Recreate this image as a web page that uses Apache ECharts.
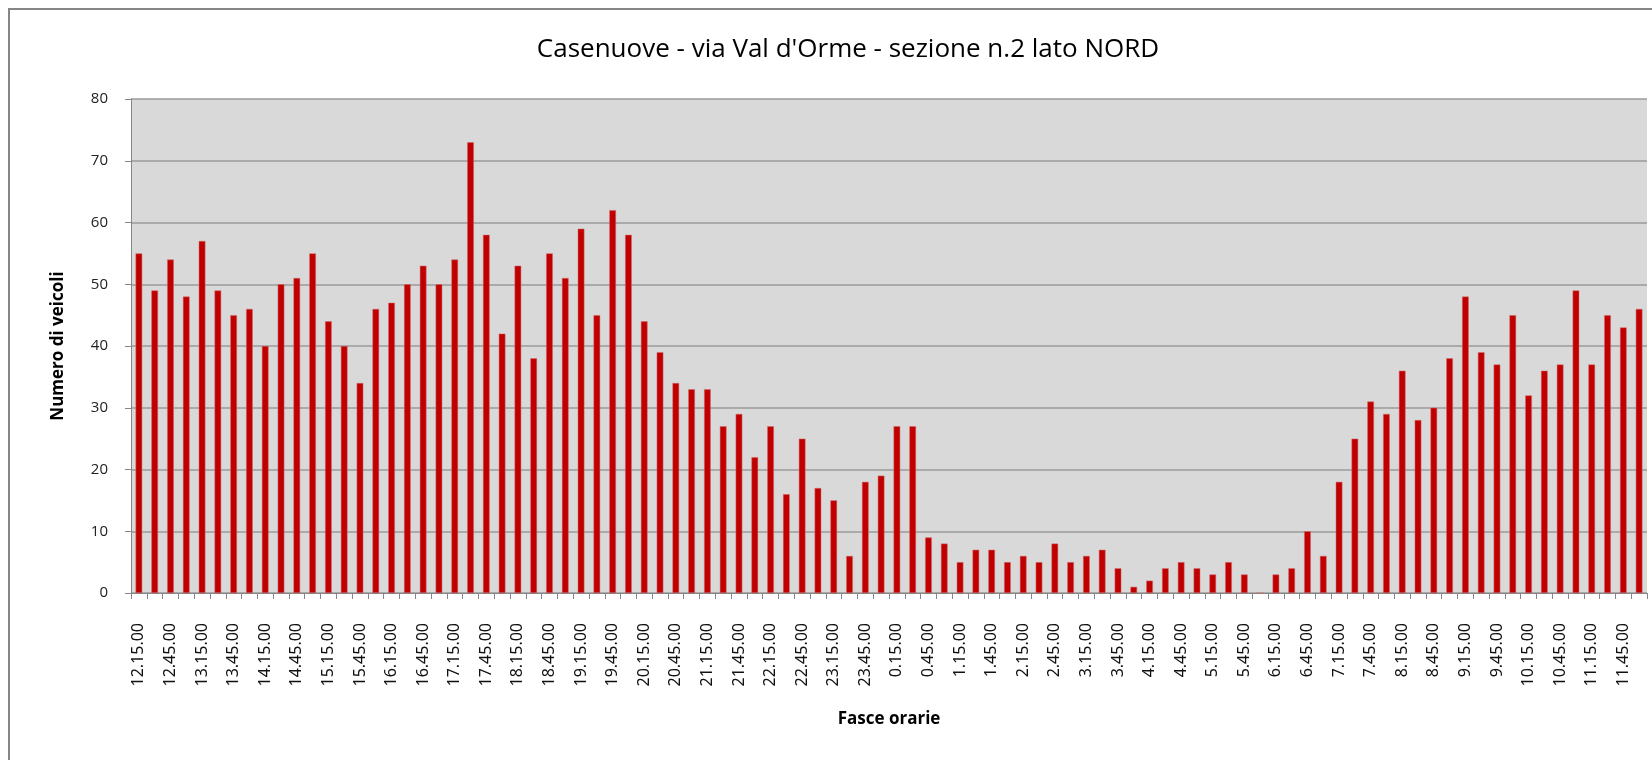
<!DOCTYPE html>
<html>
<head>
<meta charset="utf-8">
<script src="https://cdn.jsdelivr.net/npm/echarts@6/dist/echarts.min.js"></script>
<style>
html, body { margin: 0; padding: 0; background: #fff; }
#main { width: 1652px; height: 760px; }
</style>
</head>
<body>
<div id="main"></div>
<script>
// fasce orarie da 15 minuti, dalle 12.15 alle 12.00 del giorno dopo
var fasce = [
    '12.15.00','12.30.00','12.45.00','13.00.00','13.15.00','13.30.00','13.45.00','14.00.00',
    '14.15.00','14.30.00','14.45.00','15.00.00','15.15.00','15.30.00','15.45.00','16.00.00',
    '16.15.00','16.30.00','16.45.00','17.00.00','17.15.00','17.30.00','17.45.00','18.00.00',
    '18.15.00','18.30.00','18.45.00','19.00.00','19.15.00','19.30.00','19.45.00','20.00.00',
    '20.15.00','20.30.00','20.45.00','21.00.00','21.15.00','21.30.00','21.45.00','22.00.00',
    '22.15.00','22.30.00','22.45.00','23.00.00','23.15.00','23.30.00','23.45.00','0.00.00',
    '0.15.00','0.30.00','0.45.00','1.00.00','1.15.00','1.30.00','1.45.00','2.00.00',
    '2.15.00','2.30.00','2.45.00','3.00.00','3.15.00','3.30.00','3.45.00','4.00.00',
    '4.15.00','4.30.00','4.45.00','5.00.00','5.15.00','5.30.00','5.45.00','6.00.00',
    '6.15.00','6.30.00','6.45.00','7.00.00','7.15.00','7.30.00','7.45.00','8.00.00',
    '8.15.00','8.30.00','8.45.00','9.00.00','9.15.00','9.30.00','9.45.00','10.00.00',
    '10.15.00','10.30.00','10.45.00','11.00.00','11.15.00','11.30.00','11.45.00','12.00.00'
];
var veicoli = [
    55,49,54,48,57,49,45,46,
    40,50,51,55,44,40,34,46,
    47,50,53,50,54,73,58,42,
    53,38,55,51,59,45,62,58,
    44,39,34,33,33,27,29,22,
    27,16,25,17,15,6,18,19,
    27,27,9,8,5,7,7,5,
    6,5,8,5,6,7,4,1,
    2,4,5,4,3,5,3,0,
    3,4,10,6,18,25,31,29,
    36,28,30,38,48,39,37,45,
    32,36,37,49,37,45,43,46
];
var yTicks = [0, 80, 10]; // min, max, interval

var myChart = echarts.init(document.getElementById('main'));
var option = {
    backgroundColor: '#fff',
    animation: false,
    title: {
        text: "Casenuove - via Val d'Orme - sezione n.2 lato NORD",
        left: 843,
        textAlign: 'center',
        top: 32,
        textStyle: { fontFamily: 'Open Sans', fontSize: 26, fontWeight: 'normal', color: '#000' }
    },
    graphic: [{
        type: 'rect',
        shape: { x: 9, y: 9, width: 1700, height: 800 },
        style: { fill: 'none', stroke: '#868686', lineWidth: 2 },
        silent: true
    }],
    grid: {
        left: 131,
        right: 5,
        top: 99,
        bottom: 167,
        show: true,
        backgroundColor: '#d9d9d9',
        borderWidth: 0
    },
    xAxis: {
        type: 'category',
        data: fasce,
        name: 'Fasce orarie',
        nameLocation: 'middle',
        nameGap: 118,
        nameTextStyle: { fontFamily: 'Open Sans', fontSize: 17, fontWeight: 'bold', color: '#000' },
        axisLine: { lineStyle: { color: '#868686', width: 1 } },
        axisTick: { show: true, interval: 0, alignWithLabel: false, length: 6, lineStyle: { color: '#868686' } },
        axisLabel: {
            interval: 1,
            rotate: 90,
            margin: 30,
            fontFamily: 'Noto Sans',
            fontSize: 16,
            color: '#111'
        }
    },
    yAxis: {
        type: 'value',
        min: yTicks[0],
        max: yTicks[1],
        interval: yTicks[2],
        name: 'Numero di veicoli',
        nameLocation: 'middle',
        nameGap: 64,
        nameTextStyle: { fontFamily: 'Open Sans', fontSize: 17, fontWeight: 'bold', color: '#000' },
        axisLine: { show: true, lineStyle: { color: '#868686', width: 1 } },
        axisTick: { show: true, length: 6, lineStyle: { color: '#868686' } },
        axisLabel: { margin: 23, fontFamily: 'Open Sans', fontSize: 15, color: '#222' },
        splitLine: { lineStyle: { color: '#9a9a9a', width: 1.5 } }
    },
    series: [{
        name: 'Numero di veicoli',
        type: 'bar',
        data: veicoli,
        barWidth: '42%',
        itemStyle: { color: '#c00000', borderColor: '#d46a6a', borderWidth: 0.5 }
    }]
};
myChart.setOption(option);
</script>
</body>
</html>
